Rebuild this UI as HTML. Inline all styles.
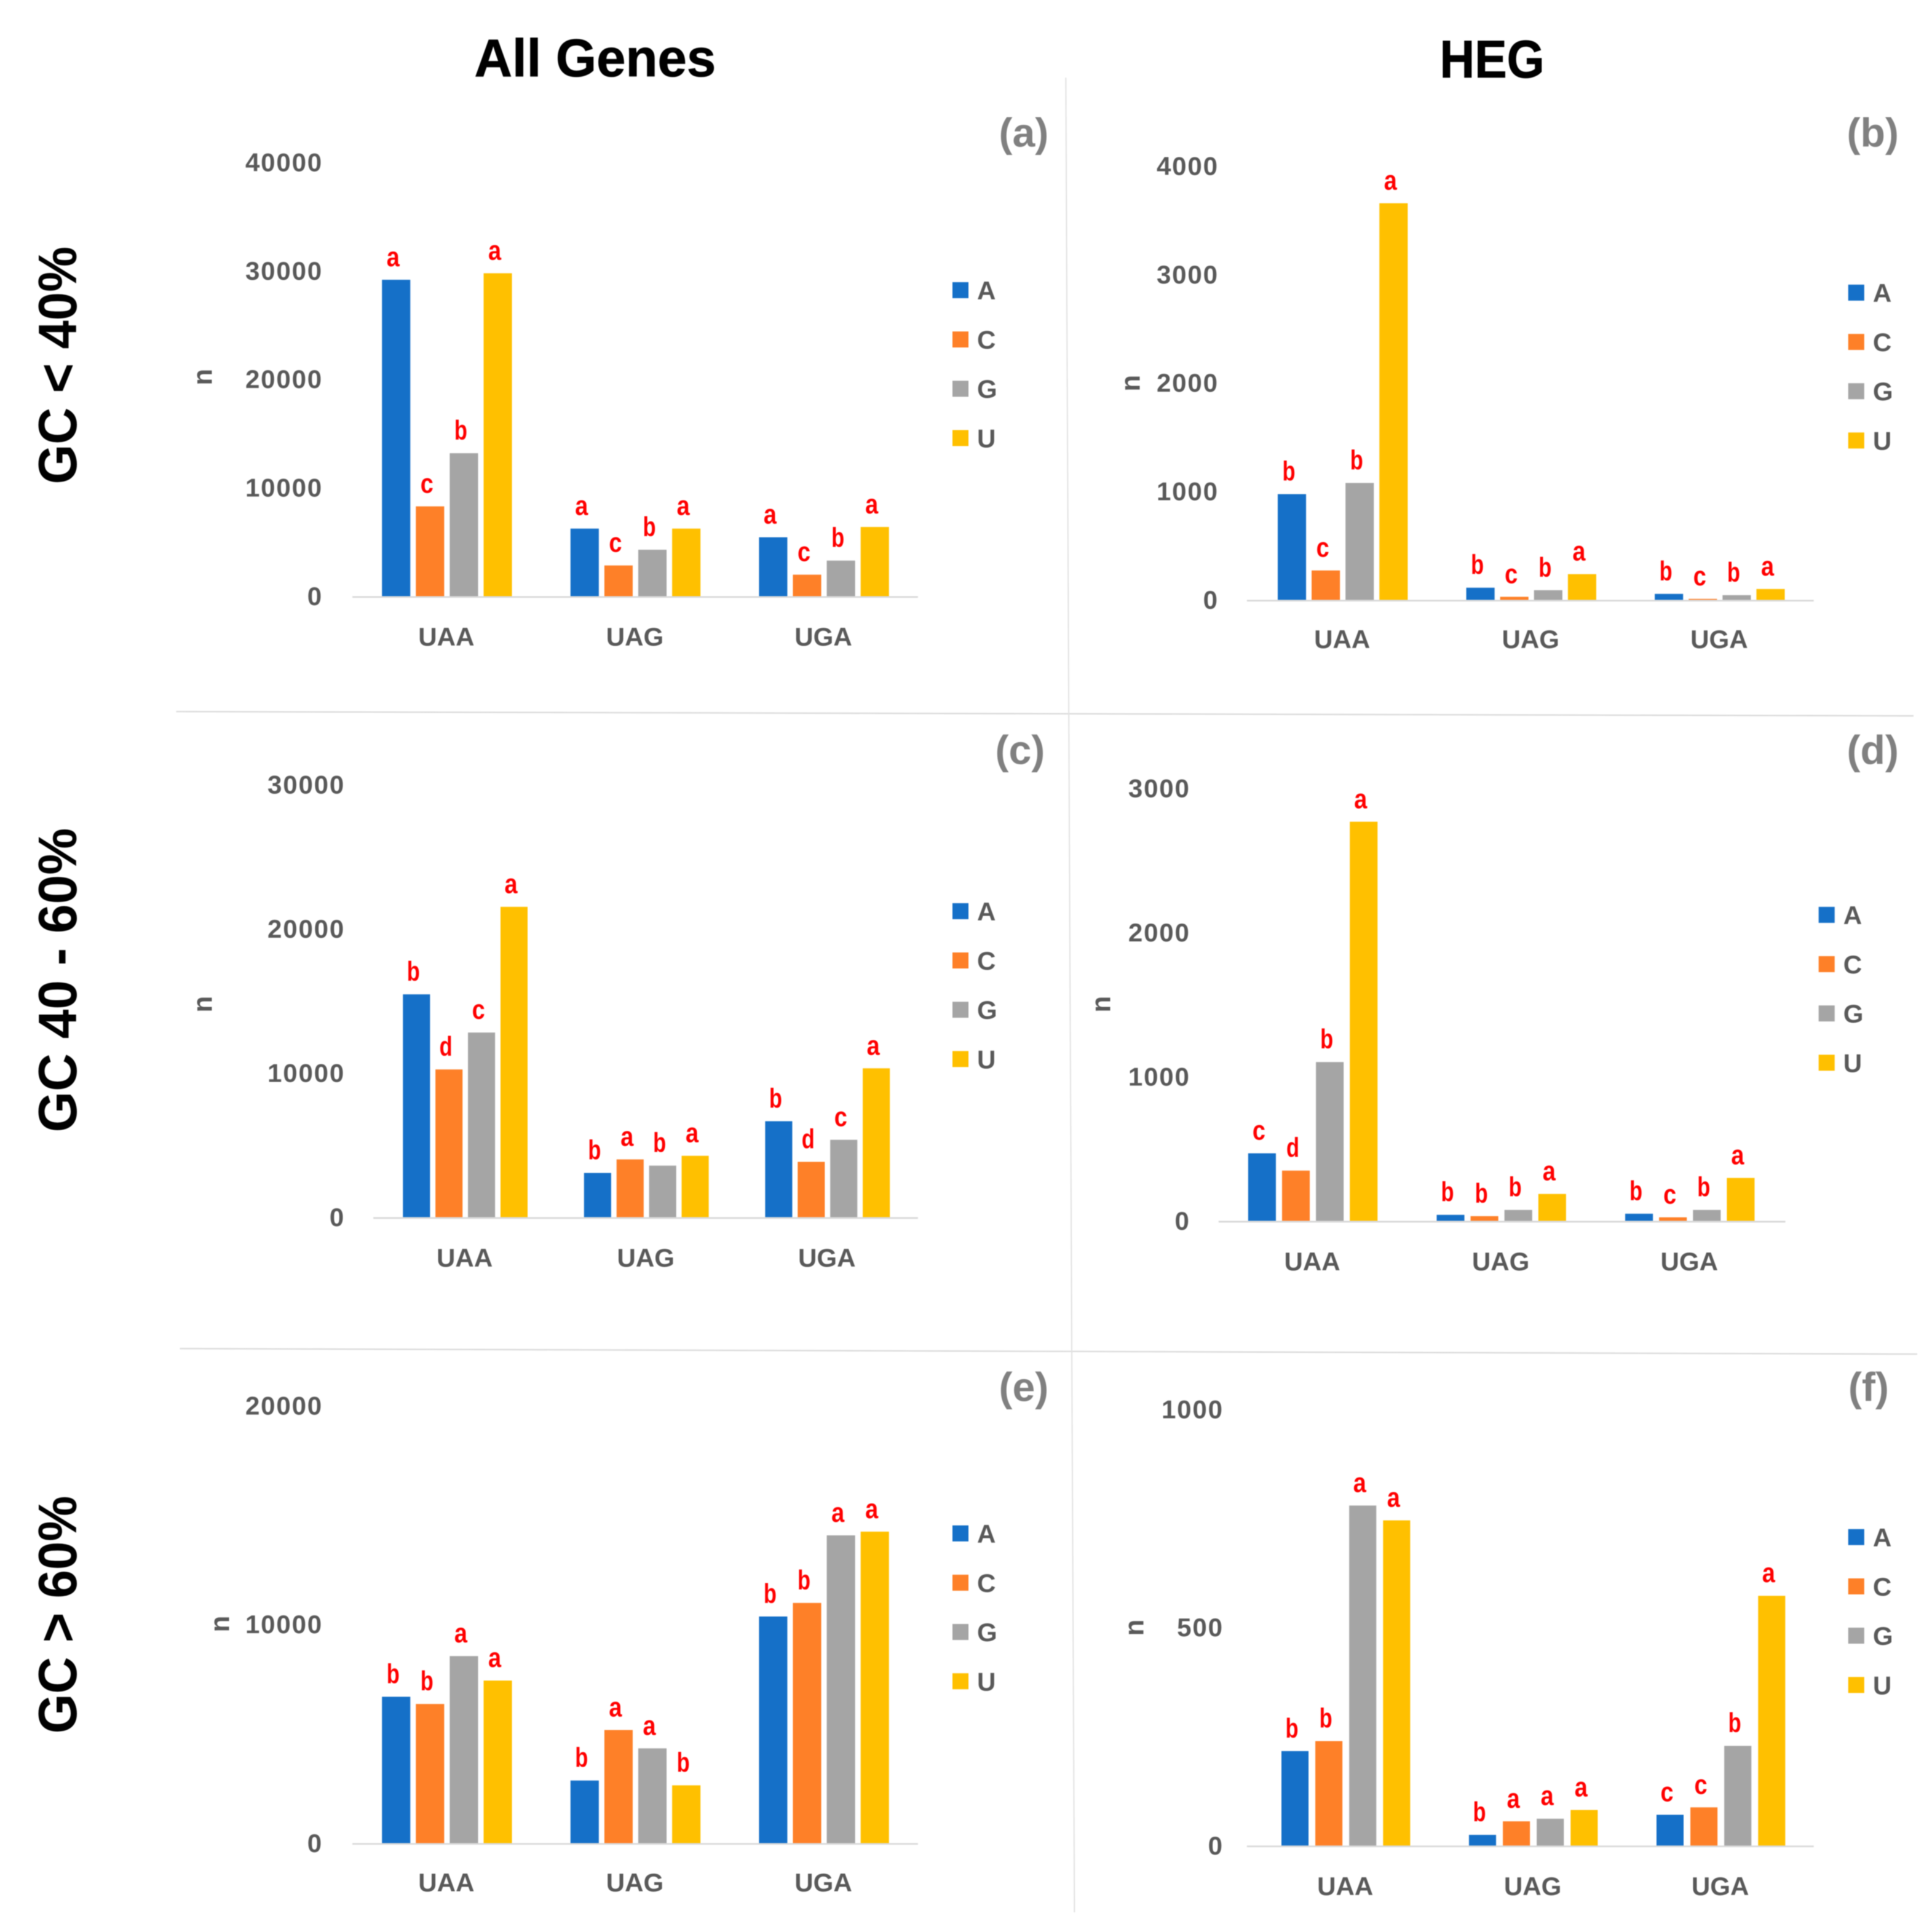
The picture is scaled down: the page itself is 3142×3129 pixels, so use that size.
<!DOCTYPE html>
<html lang="en">
<head>
<meta charset="utf-8">
<title>Stop codon context bar charts</title>
<style>
html,body{margin:0;padding:0;background:#fff}
body{width:3142px;height:3129px;overflow:hidden}
svg{display:block;font-family:"Liberation Sans",sans-serif;font-weight:bold;filter:blur(0.8px)}
</style>
</head>
<body>
<svg id="figure" xmlns="http://www.w3.org/2000/svg" width="3142" height="3129" viewBox="0 0 1568 1561.5">
  <rect x="0" y="0" width="1568" height="1561.5" fill="#ffffff"/>
  <line x1="143" y1="577.5" x2="1553" y2="581" stroke="#dcdcdc" stroke-width="1.2"/>
  <line x1="146" y1="1094.5" x2="1556" y2="1099" stroke="#dcdcdc" stroke-width="1.2"/>
  <line x1="865" y1="63" x2="872" y2="1552" stroke="#e2e2e2" stroke-width="1"/>
  <text x="483" y="62" text-anchor="middle" font-size="43" fill="#000" stroke="#000" stroke-width="0.4" textLength="196" lengthAdjust="spacingAndGlyphs">All Genes</text>
  <text x="1211" y="63" text-anchor="middle" font-size="43" fill="#000" stroke="#000" stroke-width="0.4" textLength="85" lengthAdjust="spacingAndGlyphs">HEG</text>
  <text transform="translate(62,296.5) rotate(-90)" text-anchor="middle" font-size="44" fill="#000" textLength="193" lengthAdjust="spacingAndGlyphs">GC &lt; 40%</text>
  <text transform="translate(62,795.5) rotate(-90)" text-anchor="middle" font-size="44" fill="#000" textLength="247" lengthAdjust="spacingAndGlyphs">GC 40 - 60%</text>
  <text transform="translate(62,1310.5) rotate(-90)" text-anchor="middle" font-size="44" fill="#000" textLength="193" lengthAdjust="spacingAndGlyphs">GC &gt; 60%</text>
  <g id="panels"></g>
</svg>
<script>
// Shared categories and series
const categories = ['UAA', 'UAG', 'UGA'];
const seriesNames = ['A', 'C', 'G', 'U'];

// Panel (a)
const ticksA = [0, 10000, 20000, 30000, 40000];
const aSeriesA = [29200, 6250, 5450];
const aSeriesC = [8300, 2850, 2000];
const aSeriesG = [13200, 4300, 3300];
const aSeriesU = [29800, 6250, 6400];
const aLetters = [['a','c','b','a'], ['a','c','b','a'], ['a','c','b','a']];

// Panel (b)
const ticksB = [0, 1000, 2000, 3000, 4000];
const bSeriesA = [977, 114, 57];
const bSeriesC = [273, 30, 11];
const bSeriesG = [1080, 91, 45];
const bSeriesU = [3660, 239, 102];
const bLetters = [['b','c','b','a'], ['b','c','b','a'], ['b','c','b','a']];

// Panel (c)
const ticksC = [0, 10000, 20000, 30000];
const cSeriesA = [15470, 3080, 6670];
const cSeriesC = [10260, 4020, 3850];
const cSeriesG = [12820, 3590, 5380];
const cSeriesU = [21540, 4270, 10340];
const cLetters = [['b','d','c','a'], ['b','a','b','a'], ['b','d','c','a']];

// Panel (d)
const ticksD = [0, 1000, 2000, 3000];
const dSeriesA = [470, 43, 51];
const dSeriesC = [350, 34, 26];
const dSeriesG = [1103, 77, 77];
const dSeriesU = [2770, 188, 299];
const dLetters = [['c','d','b','a'], ['b','b','b','a'], ['b','c','b','a']];

// Panel (e)
const ticksE = [0, 10000, 20000];
const eSeriesA = [6700, 2870, 10370];
const eSeriesC = [6370, 5180, 10990];
const eSeriesG = [8560, 4340, 14080];
const eSeriesU = [7440, 2650, 14250];
const eLetters = [['b','b','a','a'], ['b','a','a','b'], ['b','b','a','a']];

// Panel (f)
const ticksF = [0, 500, 1000];
const fSeriesA = [217, 25, 71];
const fSeriesC = [240, 56, 88];
const fSeriesG = [780, 62, 229];
const fSeriesU = [746, 82, 573];
const fLetters = [['b','b','a','a'], ['b','a','a','a'], ['c','c','b','a']];

const seriesColors = ['#1570c8', '#fe8028', '#a5a5a5', '#ffc000'];

const panels = [
  {id:'a', ticks:ticksA, values:[aSeriesA,aSeriesC,aSeriesG,aSeriesU], letters:aLetters,
   layout:{y0:484, yTop:132, axisL:286, axisR:745, barStart:310, barW:23, barPitch:27.5, groupPitch:153, tickR:262, catY:524, nX:165, nY:306, legX:773, legY:235.5, tagR:851, tagY:119}},
  {id:'b', ticks:ticksB, values:[bSeriesA,bSeriesC,bSeriesG,bSeriesU], letters:bLetters,
   layout:{y0:487, yTop:135, axisL:1012, axisR:1472, barStart:1037, barW:23, barPitch:27.5, groupPitch:153, tickR:989, catY:526, nX:918, nY:311, legX:1500, legY:237.5, tagR:1541, tagY:119}},
  {id:'c', ticks:ticksC, values:[cSeriesA,cSeriesC,cSeriesG,cSeriesU], letters:cLetters,
   layout:{y0:988, yTop:637, axisL:303, axisR:745, barStart:327, barW:22, barPitch:26.4, groupPitch:147, tickR:280, catY:1028, nX:165, nY:815, legX:773, legY:739.5, tagR:848, tagY:620}},
  {id:'d', ticks:ticksD, values:[dSeriesA,dSeriesC,dSeriesG,dSeriesU], letters:dLetters,
   layout:{y0:991, yTop:640, axisL:989, axisR:1449, barStart:1013, barW:22.5, barPitch:27.5, groupPitch:153, tickR:966, catY:1031, nX:894, nY:815, legX:1476, legY:742.5, tagR:1541, tagY:620}},
  {id:'e', ticks:ticksE, values:[eSeriesA,eSeriesC,eSeriesG,eSeriesU], letters:eLetters,
   layout:{y0:1496, yTop:1141, axisL:286, axisR:745, barStart:310, barW:23, barPitch:27.5, groupPitch:153, tickR:262, catY:1535, nX:179, nY:1318, legX:773, legY:1244.5, tagR:851, tagY:1137}},
  {id:'f', ticks:ticksF, values:[fSeriesA,fSeriesC,fSeriesG,fSeriesU], letters:fLetters,
   layout:{y0:1498, yTop:1144, axisL:1012, axisR:1472, barStart:1040, barW:22, barPitch:27.5, groupPitch:152.2, tickR:993, catY:1538, nX:921, nY:1321, legX:1500, legY:1247.5, tagR:1533, tagY:1137}}
];

const SVG_NS = 'http://www.w3.org/2000/svg';
const root = document.getElementById('panels');

function make(tag, parent, attrs, text) {
  const node = document.createElementNS(SVG_NS, tag);
  Object.keys(attrs).forEach(function (k) { node.setAttribute(k, attrs[k]); });
  if (text !== undefined) node.textContent = text;
  parent.appendChild(node);
  return node;
}

function yScale(panel, value) {
  const L = panel.layout;
  const max = panel.ticks[panel.ticks.length - 1];
  return L.y0 - (value / max) * (L.y0 - L.yTop);
}

function xScale(panel, catIndex, seriesIndex) {
  const L = panel.layout;
  return L.barStart + catIndex * L.groupPitch + seriesIndex * L.barPitch;
}

panels.forEach(function (panel) {
  const L = panel.layout;
  const g = make('g', root, {});
  
  

  // Tag
  const tag = make('text', g, {x: L.tagR, y: L.tagY, 'text-anchor': 'end', 'font-size': 33, fill: '#808080'}, '(' + panel.id + ')');
  
  

  // Y ticks
  panel.ticks.forEach(function (t) {
    const label = make('text', g, {x: L.tickR, y: yScale(panel, t) + 7, 'text-anchor': 'end', 'font-size': 21, 'letter-spacing': 0.9, fill: '#595959'}, String(t));
    
    
  });

  // Y title
  const yTitle = make('text', g, {transform: 'translate(' + (L.nX + 7) + ',' + L.nY + ') rotate(-90)', 'text-anchor': 'middle', 'font-size': 22, fill: '#595959'}, 'n');
  
  

  // Bars and letters
  categories.forEach(function (cat, ci) {
    seriesNames.forEach(function (name, si) {
      const top = yScale(panel, panel.values[si][ci]);
      const x = xScale(panel, ci, si);
      const bar = make('rect', g, {x: x, y: top, width: L.barW, height: L.y0 - top, fill: seriesColors[si]});
      
      
      const letter = make('text', g, {x: x + L.barW / 2 - 2.5, y: top - 11, 'text-anchor': 'middle', 'font-size': 22, fill: '#ff0000', textLength: 10.5, lengthAdjust: 'spacingAndGlyphs'}, panel.letters[ci][si]);
      
      
    });
    const catCenter = xScale(panel, ci, 0) + (3 * L.barPitch + L.barW) / 2 - 0.5;
    const catLabel = make('text', g, {x: catCenter, y: L.catY, 'text-anchor': 'middle', 'font-size': 21, fill: '#595959'}, cat);
    
    
  });

  // X axis line
  const axis = make('line', g, {x1: L.axisL, y1: L.y0 + 0.5, x2: L.axisR, y2: L.y0 + 0.5, stroke: '#d9d9d9', 'stroke-width': 1.4});
  
  

  // Legend
  seriesNames.forEach(function (name, si) {
    const cy = L.legY + si * 40;
    const swatch = make('rect', g, {x: L.legX, y: cy - 6.5, width: 13, height: 13, fill: seriesColors[si]});
    
    
    const legendText = make('text', g, {x: L.legX + 20, y: cy + 7.5, 'font-size': 21, fill: '#595959'}, name);
    
    
  });
});
</script>
</body>
</html>
